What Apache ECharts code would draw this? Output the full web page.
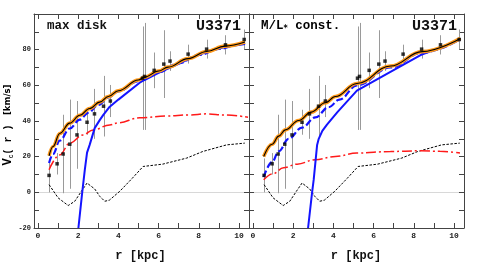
<!DOCTYPE html>
<html>
<head>
<meta charset="utf-8">
<script src="https://cdn.jsdelivr.net/npm/echarts@6/dist/echarts.min.js"></script>
<style>html,body{margin:0;padding:0;background:#fff}#c{width:480px;height:276px}</style>
</head>
<body>
<div id="c"></div>
<script>
// ---- observed rotation curve (same in both panels) ----
const radius = [0.55, 0.95, 1.25, 1.58, 1.94, 2.44, 2.81, 3.26, 3.6, 5.2, 5.3, 5.78, 6.26, 6.57, 7.47, 8.39, 9.33, 10.26];
const vObs   = [9.5, 16, 21.5, 27, 32.2, 39.3, 44, 48.3, 51.2, 64, 65, 68.4, 71.9, 73.6, 77.5, 80.3, 82.7, 85.7];
const vErr   = [9.5, 6, 22, 25, 19, 7, 14, 17, 9, 29, 30, 10, 19, 5.5, 5.3, 5.3, 5.4, 5.6];

// ---- gas (black dashed), same in both panels ----
const gasR = [0.55, 1.0, 1.5, 1.83, 2.16, 2.44, 2.82, 3.07, 3.32, 3.55, 4.07, 4.7, 5.23, 6.2, 7.4, 8.2, 9.38, 10.29];
const gasV = [4.3, -3.1, -7.4, -5, 0.6, 5.2, 1.9, -2.2, -5, -4.4, 0.6, 8, 14.5, 15.8, 19.2, 22.9, 26.6, 27.6];

// ---- max disk panel ----
const mdTotalR = [0.55, 0.75, 1.08, 1.58, 2.08, 2.57, 3.07, 3.5, 4.0, 5.0, 5.3, 6.0, 6.47, 7.47, 8.39, 9.3, 10.3];
const mdTotalV = [20.5, 25.7, 33, 38.8, 43.2, 47, 50.6, 53.7, 57, 63, 64.6, 68, 70.2, 75, 79, 82, 84.3];
const mdHaloFitR = [0.55, 0.75, 1.08, 1.58, 2.08, 2.5, 3.0, 3.5, 4.0, 5.0, 6.0, 7.0, 8.0, 9.0, 10.0, 10.3];
const mdHaloFitV = [16.4, 21.5, 29, 35.8, 40.8, 44.6, 49, 53.2, 56.6, 62.4, 67.4, 72.4, 77, 80.4, 82.9, 83.6];
const mdHaloR = [2.01, 2.2, 2.33, 2.44, 2.57, 2.82, 3.07, 3.25, 3.57, 4.0, 5.06, 5.3, 6.0, 7.0, 7.5, 8.4, 9.3, 10.3];
const mdHaloV = [-20, 0, 12.7, 22.3, 26.6, 36, 40.5, 43.4, 48, 52, 61.5, 63, 67, 72, 74.7, 78.8, 81.5, 83.2];
const mdDiskR = [0.55, 1.08, 1.58, 2.24, 2.74, 3.57, 4.0, 5.06, 6.39, 7.5, 8.39, 9.3, 10.45];
const mdDiskV = [12.7, 21, 27.6, 32.2, 35, 37.8, 39, 41.8, 42.8, 43.4, 44, 43.4, 42.1];

// ---- M/L const panel ----
const mlTotalR = [0.53, 0.95, 1.28, 1.61, 2.27, 2.9, 3.6, 4.1, 5.17, 6.84, 8.41, 10.32];
const mlTotalV = [20.1, 27, 31.5, 35, 40.3, 45, 50.2, 53.7, 61, 70.8, 78.9, 86.3];
const mlHaloFitR = [0.53, 0.95, 1.28, 1.77, 2.44, 3.1, 3.77, 4.3, 5.17, 6.84, 8.41, 10.32];
const mlHaloFitV = [8.6, 17, 23, 30, 36.3, 42, 47.8, 52, 60, 70, 78.3, 85.8];
const mlHaloR = [2.74, 2.94, 3.02, 3.19, 3.27, 3.45, 3.68, 4.2, 5.17, 6.84, 8.34, 10.3];
const mlHaloV = [-20, 0, 7.1, 26.6, 30, 34.5, 38, 45, 57, 67.6, 77, 85.5];
const mlDiskR = [0.53, 1.0, 1.52, 2.2, 3.1, 4.1, 5.17, 6.84, 8.34, 9.3, 10.3];
const mlDiskV = [7.0, 10.5, 13.8, 15.8, 18.3, 20.1, 22, 22.9, 23.3, 23, 22];

// ---- ticks ----
const xTicks = [0, 1, 2, 3, 4, 5, 6, 7, 8, 9, 10];
const xTickLabels = [0, 2, 4, 6, 8, 10];
const yTicks = [-20, -10, 0, 10, 20, 30, 40, 50, 60, 70, 80, 90, 100];
const yTickLabels = [-20, 0, 20, 40, 60, 80];

const panelTitles = ['max disk', 'M/L* const.'];
const galaxyName = 'U3371';
const xTitle = 'r [kpc]';

function zip(a, b) { return a.map((v, i) => [v, b[i]]); }

const FRAME = '#444';
const MONO = '"Liberation Mono", "DejaVu Sans Mono", monospace';

const grids = [
  { left: 34, top: 14, width: 215, height: 214 },
  { left: 249, top: 14, width: 215, height: 214 }
];

const xAxes = [], yAxes = [];
[0, 1].forEach(g => {
  ['bottom', 'top'].forEach(pos => {
    xAxes.push({
      gridIndex: g, type: 'value', min: -0.2, max: 10.5, position: pos,
      axisLine: { show: true, onZero: false, lineStyle: { color: FRAME, width: 1 } },
      axisTick: { show: true, inside: true, length: 5, customValues: xTicks, lineStyle: { color: FRAME, width: 1 } },
      axisLabel: pos === 'bottom' ? { show: true, customValues: xTickLabels, margin: 4, fontSize: 8, fontWeight: 'bold', fontFamily: MONO, color: '#222' } : { show: false },
      splitLine: { show: false }
    });
  });
  ['left', 'right'].forEach(pos => {
    yAxes.push({
      gridIndex: g, type: 'value', min: -20, max: 100, position: pos,
      axisLine: { show: true, onZero: false, lineStyle: { color: FRAME, width: 1 } },
      axisTick: { show: true, inside: true, length: 5, customValues: yTicks, lineStyle: { color: FRAME, width: 1 } },
      axisLabel: (g === 0 && pos === 'left') ? { show: true, customValues: yTickLabels, margin: 3, fontSize: 7, fontWeight: 'bold', fontFamily: MONO, color: '#222' } : { show: false },
      splitLine: { show: false }
    });
  });
});

const obs = radius.map((r, i) => [r, vObs[i] - vErr[i], vObs[i] + vErr[i]]);
const pts = zip(radius, vObs);

const panels = [
  { total: zip(mdTotalR, mdTotalV), fit: zip(mdHaloFitR, mdHaloFitV), halo: zip(mdHaloR, mdHaloV), disk: zip(mdDiskR, mdDiskV) },
  { total: zip(mlTotalR, mlTotalV), fit: zip(mlHaloFitR, mlHaloFitV), halo: zip(mlHaloR, mlHaloV), disk: zip(mlDiskR, mlDiskV) }
];

const series = [];
panels.forEach((p, g) => {
  const ax = { xAxisIndex: 2 * g, yAxisIndex: 2 * g };
  series.push(Object.assign({
    type: 'custom', data: obs, z: 1, silent: true,
    renderItem: function (params, api) {
      const a = api.coord([api.value(0), api.value(1)]);
      const b = api.coord([api.value(0), api.value(2)]);
      const x = Math.round(a[0]) + 0.5;
      return { type: 'line', shape: { x1: x, y1: a[1], x2: x, y2: b[1] }, style: { stroke: '#9a9a9a', lineWidth: 1 } };
    },
    encode: { x: 0, y: [1, 2] }
  }, ax));
  series.push(Object.assign({
    type: 'line', data: zip(gasR, gasV), symbol: 'none', z: 2, silent: true,
    lineStyle: { color: '#000', width: 1, type: [2.5, 1.5] },
    markLine: { silent: true, symbol: 'none', label: { show: false }, data: [{ yAxis: 0 }], lineStyle: { color: '#d8d8d8', width: 1, type: 'solid' }, z: 0 }
  }, ax));
  series.push(Object.assign({
    type: 'line', data: p.disk, symbol: 'none', z: 3, silent: true, smooth: 0.4, smoothMonotone: 'x',
    lineStyle: { color: '#ff1a1a', width: 1.5, type: [10, 3, 2, 3] }
  }, ax));
  series.push(Object.assign({
    type: 'line', data: p.halo, symbol: 'none', z: 4, silent: true,
    lineStyle: { color: '#1414ff', width: 2 }
  }, ax));
  series.push(Object.assign({
    type: 'line', data: p.fit, symbol: 'none', z: 5, silent: true, smooth: 0.4, smoothMonotone: 'x',
    lineStyle: { color: '#1414ff', width: 2.2, type: [7, 3] }
  }, ax));
  series.push(Object.assign({
    type: 'line', data: p.total, symbol: 'none', z: 6, silent: true, smooth: 0.4, smoothMonotone: 'x',
    lineStyle: { color: '#ff9a1a', width: 3.6 }
  }, ax));
  series.push(Object.assign({
    type: 'line', data: p.total, symbol: 'none', z: 7, silent: true, smooth: 0.4, smoothMonotone: 'x',
    lineStyle: { color: '#000', width: 1.1 }
  }, ax));
  series.push(Object.assign({
    type: 'scatter', data: pts, symbol: 'rect', symbolSize: 3.5, z: 8, silent: true,
    itemStyle: { color: '#000' }
  }, ax));
});

const titleFont = { fontFamily: MONO, fontWeight: 'bold', fill: '#111' };
const graphic = [
  { type: 'text', left: 47, top: 19, style: Object.assign({ text: panelTitles[0], fontSize: 12.5 }, titleFont) },
  { type: 'text', x: 241, y: 26, style: Object.assign({ text: galaxyName, fontSize: 15, textAlign: 'right', textVerticalAlign: 'middle' }, titleFont) },
  { type: 'text', x: 261, y: 26, style: {
      text: '{a|M/L}{s|*}{a| const.}', textVerticalAlign: 'middle',
      rich: {
        a: { fontFamily: MONO, fontWeight: 'bold', fontSize: 12.5, color: '#111' },
        s: { fontFamily: '"DejaVu Sans", sans-serif', fontWeight: 'bold', fontSize: 8, color: '#111', verticalAlign: 'bottom', padding: [6, 0, 0, 0] }
      } } },
  { type: 'text', x: 457, y: 26, style: Object.assign({ text: galaxyName, fontSize: 15, textAlign: 'right', textVerticalAlign: 'middle' }, titleFont) },
  { type: 'text', x: 140.5, y: 256, style: Object.assign({ text: xTitle, fontSize: 12, textAlign: 'center', textVerticalAlign: 'middle' }, titleFont) },
  { type: 'text', x: 356, y: 256, style: Object.assign({ text: xTitle, fontSize: 12, textAlign: 'center', textVerticalAlign: 'middle' }, titleFont) },
  { type: 'text', x: 8, y: 125, rotation: Math.PI / 2, style: {
      text: '{v|V}{c|C}{p|( r )}{g|  }{u|[km/s]}', textAlign: 'center', textVerticalAlign: 'middle',
      rich: {
        v: { fontFamily: MONO, fontWeight: 'bold', fontSize: 12, color: '#111' },
        c: { fontFamily: MONO, fontWeight: 'bold', fontSize: 6, color: '#111', verticalAlign: 'bottom', padding: [4, 0, 0, 0] },
        p: { fontFamily: MONO, fontWeight: 'bold', fontSize: 10, color: '#111' },
        g: { fontFamily: MONO, fontSize: 8 },
        u: { fontFamily: '"DejaVu Sans", sans-serif', fontWeight: 'bold', fontSize: 8.5, color: '#111' }
      } } }
];

const chart = echarts.init(document.getElementById('c'), null, { renderer: 'canvas' });
chart.setOption({
  animation: false,
  backgroundColor: '#fff',
  grid: grids,
  xAxis: xAxes,
  yAxis: yAxes,
  series: series,
  graphic: graphic
});
</script>
</body>
</html>
